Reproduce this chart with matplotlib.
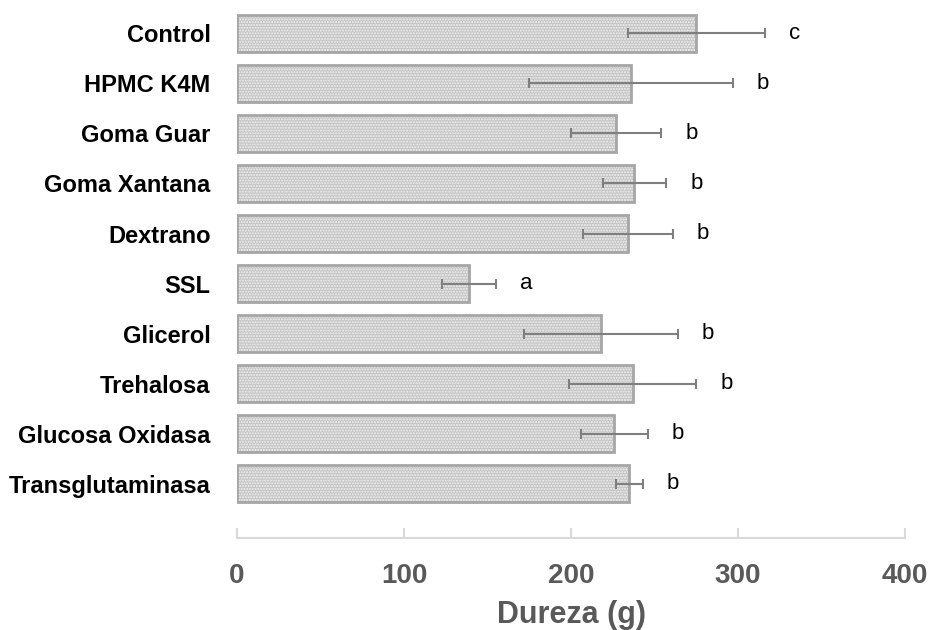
import matplotlib.pyplot as plt

plt.rcParams['font.family'] = ['Liberation Sans', 'DejaVu Sans']

# values
tratamientos = ["Control", "HPMC K4M", "Goma Guar", "Goma Xantana", "Dextrano",
                "SSL", "Glicerol", "Trehalosa", "Glucosa Oxidasa", "Transglutaminasa"]
dureza = [275, 236, 227, 238, 234, 139, 218, 237, 226, 235]
error = [41, 61, 27, 19, 27, 16, 46, 38, 20, 8]
letras = ["c", "b", "b", "b", "b", "a", "b", "b", "b", "b"]

fig = plt.figure(figsize=(9.31, 6.3), dpi=100)
ax = fig.add_axes([0.2546, 0.146, 0.7175, 0.841])

pos = list(range(len(tratamientos)))

# dotted fill, then the grey outline on top
ax.barh(pos, dureza, height=0.74, color="#c4c4c4", edgecolor="#f2f2f2",
        hatch="......", linewidth=0, zorder=2)
ax.barh(pos, dureza, height=0.74, fill=False, edgecolor="#a6a6a6",
        linewidth=2, zorder=3)
ax.errorbar(dureza, pos, xerr=error, fmt="none", ecolor="#7f7f7f",
            elinewidth=1.5, capsize=3.5, capthick=1.5, zorder=4)

for y, x, e, l in zip(pos, dureza, error, letras):
    ax.text(x + e + 18, y, l, fontsize=16, ha="center", va="center", color="black")

ax.set_xlim(0, 400)
ax.set_ylim(10.08, -0.5)
ax.set_xticks([0, 100, 200, 300, 400])
ax.set_yticks(pos)
ax.set_yticklabels(tratamientos, fontsize=17, fontweight="bold")

for s in ["top", "right", "left"]:
    ax.spines[s].set_visible(False)
ax.spines["bottom"].set_color("#d9d9d9")
ax.spines["bottom"].set_linewidth(1.5)

ax.tick_params(axis="y", length=0, pad=19)
ax.tick_params(axis="x", direction="in", length=7, width=1.5, color="#d9d9d9",
               pad=18, labelsize=20, labelcolor="#595959")
for t in ax.get_xticklabels():
    t.set_fontweight("bold")

ax.set_xlabel("Dureza (g)", fontsize=22, fontweight="bold", color="#595959", labelpad=8)

fig.savefig("out.png", dpi=100)
